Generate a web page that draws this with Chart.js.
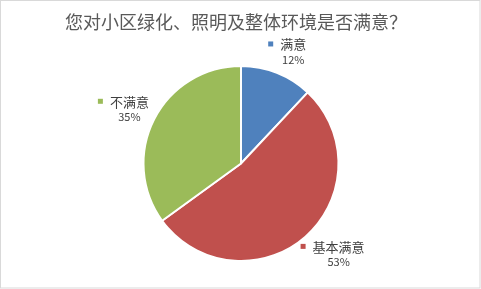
<!DOCTYPE html>
<html>
<head>
<meta charset="utf-8">
<script src="https://cdn.jsdelivr.net/npm/chart.js@4/dist/chart.umd.min.js"></script>
<style>
  html, body { margin: 0; padding: 0; background: #ffffff; }
  #wrap { width: 481px; height: 289px; position: relative; }
</style>
</head>
<body>
<div id="wrap"><canvas id="pie" width="481" height="289"></canvas></div>
<script>
// Survey answers and their shares (%)
const chartTitle = '您对小区绿化、照明及整体环境是否满意？';
const categories = ['满意', '基本满意', '不满意'];
const shares = [12, 53, 35];
const sliceColors = ['#4F81BD', '#C0504D', '#9BBB59'];

const FONT = '"Noto Sans CJK SC", "Noto Sans", sans-serif';

// Frame, title and outside labels (marker + name, percentage below)
const decorations = {
  id: 'decorations',
  beforeDraw(chart) {
    const ctx = chart.ctx;
    ctx.save();
    ctx.fillStyle = '#ffffff';
    ctx.fillRect(0, 0, chart.width, chart.height);
    ctx.strokeStyle = '#d9d9d9';
    ctx.lineWidth = 1;
    ctx.strokeRect(0.5, 0.5, chart.width - 1.5, chart.height - 1.5);
    ctx.fillStyle = '#595959';
    ctx.font = '18px ' + FONT;
    ctx.textAlign = 'center';
    ctx.textBaseline = 'middle';
    ctx.fillText(chartTitle, 236, 22);
    ctx.restore();
  },
  afterDatasetsDraw(chart) {
    const ctx = chart.ctx;
    const meta = chart.getDatasetMeta(0);
    const total = shares.reduce((a, b) => a + b, 0);
    const boxH = 28;
    ctx.save();
    meta.data.forEach((arc, i) => {
      const p = arc.getProps(['x', 'y', 'startAngle', 'endAngle', 'outerRadius'], true);
      const mid = (p.startAngle + p.endAngle) / 2;
      const c = Math.cos(mid), s = Math.sin(mid);

      ctx.font = '13px ' + FONT;
      const nameW = ctx.measureText(categories[i]).width;
      const blockW = nameW + 12;
      // label box sits just outside the rim, pushed out by half its size
      const dist = p.outerRadius + 9;
      const cx = p.x + c * dist + c * blockW / 2;
      const cy = p.y + s * dist + s * boxH / 2;
      const left = cx - blockW / 2;
      // marker square
      ctx.fillStyle = sliceColors[i];
      ctx.fillRect(left, cy - 10, 5, 5);
      // category name
      ctx.fillStyle = '#404040';
      ctx.textAlign = 'left';
      ctx.textBaseline = 'middle';
      ctx.fillText(categories[i], left + 12, cy - 7);
      // percentage
      ctx.font = '11px ' + FONT;
      ctx.textAlign = 'center';
      ctx.fillText(Math.round(shares[i] / total * 100) + '%', left + 12 + nameW / 2, cy + 8);
    });
    ctx.restore();
  }
};

new Chart(document.getElementById('pie'), {
  type: 'pie',
  data: {
    labels: categories,
    datasets: [{
      data: shares,
      backgroundColor: sliceColors,
      borderColor: '#ffffff',
      borderWidth: 2
    }]
  },
  options: {
    responsive: false,
    animation: false,
    layout: { padding: { top: 65, bottom: 27, left: 1, right: 0 } },
    plugins: {
      legend: { display: false },
      title: { display: false },
      tooltip: { enabled: false }
    }
  },
  plugins: [decorations]
});
</script>
</body>
</html>
